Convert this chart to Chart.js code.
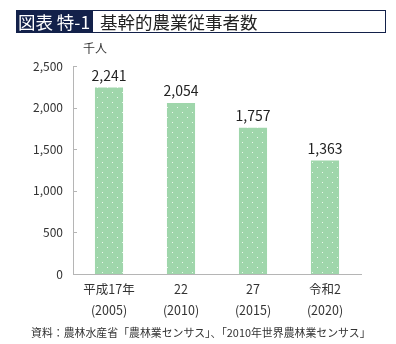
<!DOCTYPE html>
<html lang="ja">
<head>
<meta charset="utf-8">
<script src="https://cdn.jsdelivr.net/npm/chart.js@4/dist/chart.umd.min.js"></script>
<style>
  html, body { margin: 0; padding: 0; background: #fff; }
  #wrap { position: relative; width: 396px; height: 344px; overflow: hidden;
          font-family: "Noto Sans CJK JP", "Noto Sans", sans-serif; color: #333; }
  #c { position: absolute; left: 0; top: 0; }
  .tag { position: absolute; left: 16px; top: 10px; width: 76px; height: 23px;
         background: #13214a; color: #fff; font-size: 17.5px; line-height: 23px;
         text-align: center; white-space: nowrap; }
  .ttl { position: absolute; left: 92px; top: 10px; width: 285px; height: 21px;
         border: 1px solid #13214a; background: #fff; color: #222; font-size: 17.5px;
         line-height: 21px; padding-left: 7px; box-sizing: content-box; white-space: nowrap; }
  .unit { position: absolute; left: 83px; top: 39px; font-size: 12px; color: #333; }
  .src { position: absolute; left: 31px; top: 324px; font-size: 10.9px; line-height: 16px; color: #333; white-space: nowrap; }
</style>
</head>
<body>
<div id="wrap">
  <canvas id="c" width="396" height="344"></canvas>
  <div class="tag">図表 特-1</div>
  <div class="ttl">基幹的農業従事者数</div>
  <div class="unit">千人</div>
  <div class="src">資料：農林水産省「農林業センサス」、「2010年世界農林業センサス」</div>
</div>
<script>
// Survey years (Japanese era + western year)
const eraLabels = ["平成17年", "22", "27", "令和2"];
const yearLabels = ["(2005)", "(2010)", "(2015)", "(2020)"];
// Core agricultural workers, thousand persons
const workers = [2241, 2054, 1757, 1363];
// Y axis range and step
const yMin = 0, yMax = 2500, yStep = 500;

// Light green fill sprinkled with white dots
function dotPattern() {
  const p = document.createElement("canvas");
  p.width = 10; p.height = 10;
  const g = p.getContext("2d");
  g.fillStyle = "#9fd6ab";
  g.fillRect(0, 0, 10, 10);
  g.fillStyle = "rgba(255,255,255,0.8)";
  g.fillRect(2, 2, 1, 1);
  g.fillRect(7, 7, 1, 1);
  return g.createPattern(p, "repeat");
}

const ctx = document.getElementById("c").getContext("2d");

// Short inward tick marks on the value axis
const innerTicks = {
  id: "innerTicks",
  afterDraw(chart) {
    const y = chart.scales.y, x0 = chart.chartArea.left;
    const c = chart.ctx;
    c.save();
    c.strokeStyle = "#b5b5b5";
    c.lineWidth = 1;
    y.ticks.forEach(t => {
      const py = Math.round(y.getPixelForValue(t.value)) + 0.5;
      c.beginPath();
      c.moveTo(x0, py);
      c.lineTo(x0 + 4, py);
      c.stroke();
    });
    c.restore();
  }
};

// Value labels above each bar
const valueLabels = {
  id: "valueLabels",
  afterDatasetsDraw(chart) {
    const c = chart.ctx;
    const meta = chart.getDatasetMeta(0);
    c.save();
    c.font = '14px "Noto Sans CJK JP", "Noto Sans", sans-serif';
    c.fillStyle = "#222";
    c.textAlign = "center";
    c.textBaseline = "bottom";
    meta.data.forEach((bar, i) => {
      c.fillText(workers[i].toLocaleString("en-US"), bar.x, bar.y - 5);
    });
    c.restore();
  }
};

new Chart(ctx, {
  type: "bar",
  data: {
    labels: eraLabels.map((e, i) => [e, yearLabels[i]]),
    datasets: [{
      data: workers,
      backgroundColor: dotPattern(),
      borderWidth: 0,
      categoryPercentage: 1,
      barPercentage: 0.39
    }]
  },
  options: {
    responsive: false,
    animation: false,
    devicePixelRatio: 1,
    layout: { padding: { top: 66, right: 35, bottom: 0, left: 0 }, autoPadding: false },
    plugins: { legend: { display: false }, tooltip: { enabled: false } },
    scales: {
      x: {
        grid: { display: false, drawTicks: false },
        border: { display: true, color: "#b5b5b5", width: 1 },
        ticks: {
          color: "#333",
          padding: 5,
          font: { family: '"Noto Sans CJK JP", "Noto Sans", sans-serif', size: 12.5, lineHeight: 1.68 }
        },
        afterFit(s) { s.height = 70; }
      },
      y: {
        min: yMin, max: yMax,
        grid: { display: false, drawTicks: false },
        border: { display: true, color: "#b5b5b5", width: 1 },
        ticks: {
          stepSize: yStep,
          color: "#333",
          padding: 10,
          font: { family: '"Noto Sans CJK JP", "Noto Sans", sans-serif', size: 12 },
          callback: v => v.toLocaleString("en-US")
        },
        afterFit(s) { s.width = 73; }
      }
    }
  },
  plugins: [innerTicks, valueLabels]
});
</script>
</body>
</html>
